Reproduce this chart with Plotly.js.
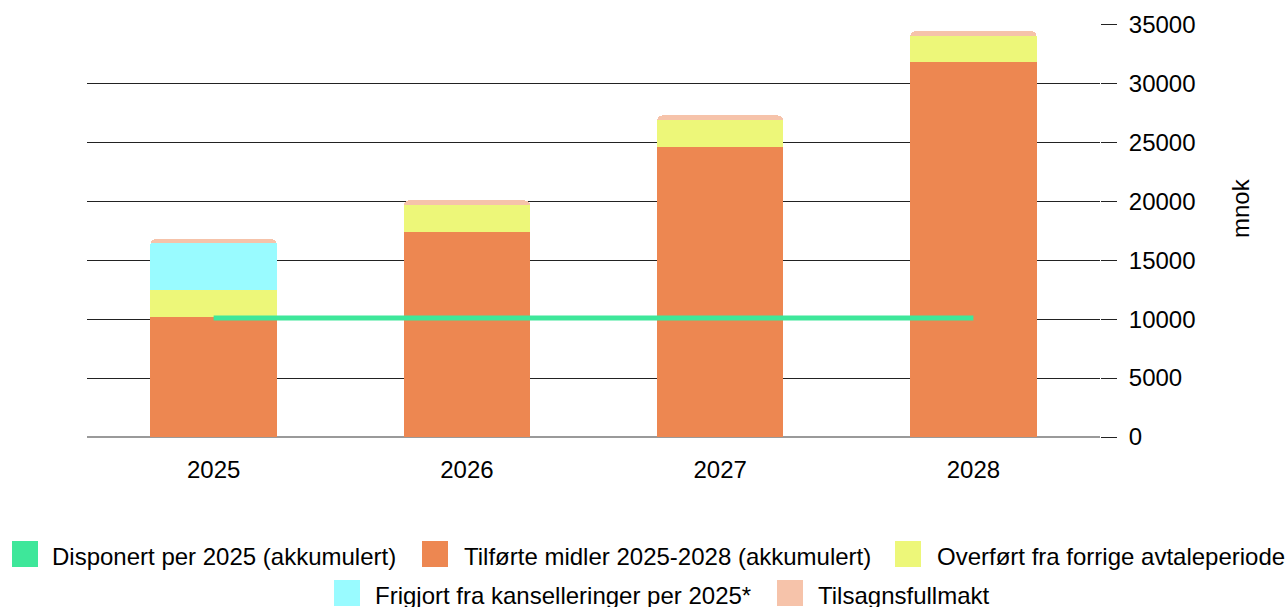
<!DOCTYPE html>
<html><head><meta charset="utf-8">
<script src="https://cdn.plot.ly/plotly-3.0.1.min.js"></script>
<style>html,body{margin:0;padding:0;background:#fff}#chart{width:1287px;height:607px}</style>
</head><body><div id="chart"></div>
<script>
// ---- data ----
const years = ['2025', '2026', '2027', '2028'];
const disponert = [10100, 10100, 10100, 10100];
const tilforte = [10200, 17400, 24600, 31800];
const overfort = [2260, 2260, 2260, 2260];
const frigjort = [3960, 0, 0, 0];
const tilsagn = [370, 420, 420, 370];
const seriesNames = [
  'Disponert per 2025 (akkumulert)',
  'Tilførte midler 2025-2028 (akkumulert)',
  'Overført fra forrige avtaleperiode',
  'Frigjort fra kanselleringer per 2025*',
  'Tilsagnsfullmakt'
];
const yTitle = 'mnok';
const yTickVals = [0, 5000, 10000, 15000, 20000, 25000, 30000, 35000];
const boundaryVals = [0.5, 1.5, 2.5];

// ---- style ----
const colors = ['#3ee79a', '#ed8751', '#edf779', '#99fbff', '#f6c3aa'];
const FONT = '"Liberation Sans", Arial, sans-serif';
const FS = 24;
const L = 87, R = 1100, T = 24, B = 437;
const px2x = p => (p - L) / (R - L);
const py2y = p => (B - p) / (B - T);

const bar = (y, i) => ({
  type: 'bar', x: years, y: y, name: seriesNames[i],
  marker: {color: colors[i], line: {width: 0}}, showlegend: false, hoverinfo: 'skip'
});

const traces = [
  bar(tilforte, 1), bar(overfort, 2), bar(frigjort, 3), bar(tilsagn, 4),
  {type: 'scatter', mode: 'lines', x: years, y: disponert, name: seriesNames[0],
   line: {color: colors[0], width: 5}, showlegend: false, hoverinfo: 'skip'}
];

// manual legend
const legendItems = [
  {i: 0, sx: 12, tx: 50, row: 0},
  {i: 1, sx: 422, tx: 462, row: 0},
  {i: 2, sx: 895, tx: 935, row: 0},
  {i: 3, sx: 334, tx: 373, row: 1},
  {i: 4, sx: 777, tx: 816, row: 1}
];
const rowTop = [541, 580];
const rowText = [556, 595];
const shapes = [], annotations = [];
legendItems.forEach(it => {
  const top = rowTop[it.row];
  shapes.push({type: 'rect', xref: 'paper', yref: 'paper',
    x0: px2x(it.sx), x1: px2x(it.sx + 26), y0: py2y(top + 26), y1: py2y(top),
    fillcolor: colors[it.i], line: {width: 0}});
  annotations.push({xref: 'paper', yref: 'paper', x: px2x(it.tx), y: py2y(rowText[it.row]),
    xanchor: 'left', yanchor: 'middle', showarrow: false, text: seriesNames[it.i],
    font: {family: FONT, size: FS, color: '#000'}});
});
annotations.push({xref: 'paper', yref: 'paper', x: px2x(1240), y: py2y(208),
  xanchor: 'center', yanchor: 'middle', showarrow: false, textangle: -90, text: yTitle,
  font: {family: FONT, size: FS, color: '#000'}});

const layout = {
  width: 1287, height: 607,
  margin: {l: L, r: 1287 - R, t: T, b: 607 - B, pad: 0},
  paper_bgcolor: '#fff', plot_bgcolor: '#fff',
  barmode: 'stack', bargap: 0.5, barcornerradius: 6,
  showlegend: false,
  font: {family: FONT, size: FS, color: '#000'},
  xaxis: {type: 'category', range: [-0.5, 3.5], showgrid: false, showline: false,
    ticks: '', tickfont: {family: FONT, size: FS, color: '#000'}, ticklabelstandoff: 16,
    fixedrange: true},
  xaxis2: {overlaying: 'x', anchor: 'y', range: [-0.5, 3.5], tickvals: boundaryVals,
    showticklabels: false, ticks: 'outside', ticklen: 16, tickcolor: '#000', tickwidth: 1,
    showgrid: false, showline: false, zeroline: false},
  yaxis: {side: 'right', range: [0, 35040], tickvals: yTickVals, tickformat: 'd',
    showgrid: true, gridcolor: '#222', gridwidth: 1,
    zeroline: true, zerolinecolor: '#9a9a9a', zerolinewidth: 2,
    ticks: 'outside', ticklen: 16, tickcolor: '#222', tickwidth: 1,
    ticklabelstandoff: 7,
    tickfont: {family: FONT, size: FS, color: '#000'},
    automargin: false, fixedrange: true},
  shapes: shapes,
  annotations: annotations
};

Plotly.newPlot('chart', traces, layout, {displayModeBar: false, staticPlot: true});
</script></body></html>
